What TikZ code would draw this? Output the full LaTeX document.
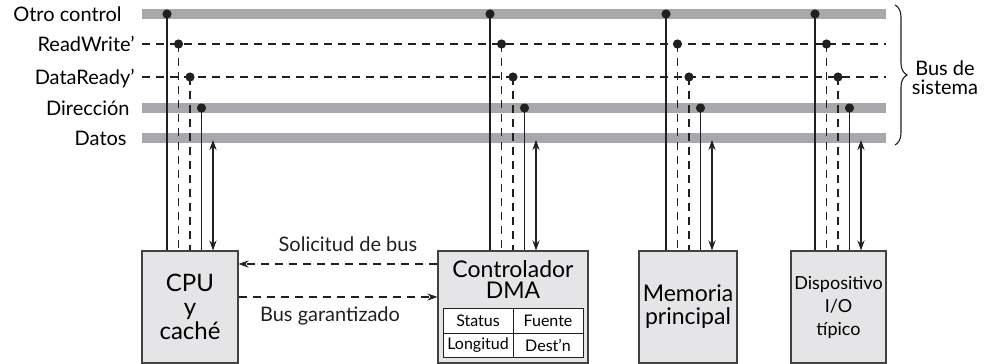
\documentclass[tikz,border=0pt]{standalone}
\usepackage{fontspec}
\setmainfont{Lato}
\usetikzlibrary{arrows.meta, decorations.pathreplacing}
\definecolor{busgray}{RGB}{168,168,172}
\definecolor{boxgray}{RGB}{229,229,231}
\definecolor{ink}{RGB}{35,31,32}

\begin{document}
\begin{tikzpicture}[x=0.5pt, y=-0.5pt, >={Stealth[length=5pt, width=3.6pt]},
    busband/.style={line width=5pt, busgray},
    sig/.style={ink, line width=0.55pt},
    sigdash/.style={sig, dash pattern=on 4pt off 3pt},
    modbox/.style={draw=ink!85, fill=boxgray, line width=0.6pt, minimum height=56pt, inner sep=0pt, align=center},
    regcell/.style={draw=ink, fill=white, line width=0.5pt, minimum width=35pt, minimum height=12.25pt, inner sep=0pt, font=\fontsize{8}{9}\selectfont},
    lbl/.style={anchor=base east, inner sep=0pt, font=\fontsize{10}{12}\selectfont}]
    \useasboundingbox (0,0) rectangle (987,364);

    % lineas del bus
    \coordinate (oc-l) at (142,14);  \coordinate (oc-r) at (886,14);
    \coordinate (rw-l) at (142,44);  \coordinate (rw-r) at (886,44);
    \coordinate (dr-l) at (142,77);  \coordinate (dr-r) at (886,77);
    \coordinate (dir-l) at (142,108); \coordinate (dir-r) at (886,108);
    \coordinate (dat-l) at (142,138); \coordinate (dat-r) at (886,138);
    \draw[busband] (oc-l) -- (oc-r);
    \draw[sigdash] (rw-l) -- (rw-r);
    \draw[sigdash] (dr-l) -- (dr-r);
    \draw[busband] (dir-l) -- (dir-r);
    \draw[busband] (dat-l) -- (dat-r);

    \node[lbl] (t-oc) at (122,21) {Otro control};
    \node[lbl] (t-rw) at (135,51) {ReadWrite’};
    \node[lbl] (t-dr) at (135,84) {DataReady’};
    \node[lbl] (t-dir) at (130,115) {Dirección};
    \node[lbl] (t-dat) at (127,145) {Datos};

    % modulos
    \node[modbox, minimum width=48pt, font=\fontsize{12}{12}\selectfont] (cpu) at (190,307) {CPU\\y\\caché};
    \node[modbox, minimum width=75pt] (dma) at (513,307) {};
    \node[align=center, font=\fontsize{11.5}{10.5}\selectfont] (dma-t) at (513,280) {Controlador\\DMA};
    \node[regcell] (c-st) at (478,321) {Status};
    \node[regcell] (c-fu) at (548,321) {Fuente};
    \node[regcell] (c-lo) at (478,345.5) {Longitud};
    \node[regcell] (c-de) at (548,345.5) {Dest’n};
    \node[modbox, minimum width=49pt, font=\fontsize{11.5}{11.5}\selectfont] (mem) at (688,307) {Memoria\\principal};
    \node[modbox, minimum width=47.5pt, font=\fontsize{9}{11.5}\selectfont] (dev) at (838.5,307) {Dispositivo\\I/O\\típico};

    % conexiones al bus
    \foreach \m/\x in {cpu/167, dma/490, mem/666, dev/815} {
        \coordinate (\m-a) at (\x,14);
        \coordinate (\m-b) at (\x+11.5,44);
        \coordinate (\m-c) at (\x+23,77);
        \coordinate (\m-d) at (\x+34.5,108);
        \coordinate (\m-e) at (\x+46,140);
        \draw[sig] (\m-a) -- (\m-a |- \m.north);
        \draw[sigdash] (\m-b) -- (\m-b |- \m.north);
        \draw[sigdash] (\m-c) -- (\m-c |- \m.north);
        \draw[sig] (\m-d) -- (\m-d |- \m.north);
        \draw[sig, <->] (\m-e) -- (\m-e |- \m.north);
        \foreach \p in {a,b,c,d}
            \fill[ink] (\m-\p) circle (2.3pt);
    }

    % arbitraje
    \draw[sigdash, ->] ([yshift=21.5pt]dma.west) -- ([yshift=21.5pt]cpu.east)
        node[pos=0.45, above=2.5pt, font=\fontsize{10}{12}\selectfont] (sol) {Solicitud de bus};
    \draw[sigdash, ->] ([yshift=5pt]cpu.east) -- ([yshift=5pt]dma.west)
        node[pos=0.46, below=1.5pt, font=\fontsize{10}{12}\selectfont] (gar) {Bus garantizado};

    % llave
    \coordinate (bra-t) at (895,5);
    \coordinate (bra-b) at (895,145);
    \draw[sig, decorate, decoration={brace, amplitude=6pt}] (bra-t) -- (bra-b);
    \node[align=center, font=\fontsize{10}{9.5}\selectfont] (bus-t) at (945,78) {Bus de\\sistema};
\end{tikzpicture}
\end{document}
